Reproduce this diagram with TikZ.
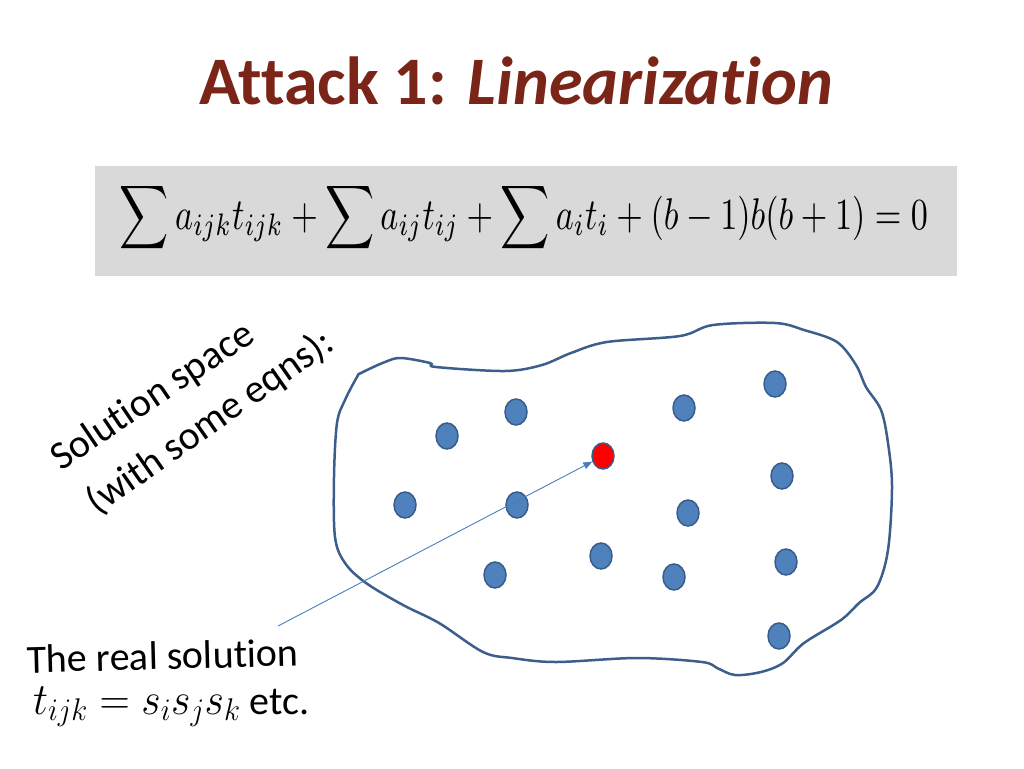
\documentclass[tikz,border=0pt]{standalone}
\usepackage{fix-cm}
\usepackage[no-math]{fontspec}
\setmainfont[Ligatures=NoCommon]{Carlito}
\usetikzlibrary{shapes.geometric,arrows.meta}
\definecolor{titlered}{HTML}{7B2418}
\definecolor{dotfill}{HTML}{4F81BD}
\definecolor{dotline}{HTML}{385D8A}
\definecolor{blobline}{HTML}{3B5E8C}
\definecolor{arrowblue}{HTML}{4A7EBB}
\definecolor{eqgray}{HTML}{D9D9D9}
\tikzset{
  dot/.style={ellipse, fill=dotfill, draw=dotline, line width=1.5pt, minimum width=22pt, minimum height=26pt, inner sep=0pt},
  realdot/.style={dot, fill=red},
  pointer/.style={draw=arrowblue, line width=0.9pt, -{Triangle[length=9pt,width=7pt]}},
  bodytext/.style={font=\fontsize{40}{48}\selectfont, inner sep=0pt}
}
\begin{document}
\begin{tikzpicture}[x=1pt,y=-1pt]
\useasboundingbox (0,0) rectangle (1024,768);
% title
\node[anchor=base, inner sep=0pt, text=titlered, font=\fontsize{68}{80}\selectfont\bfseries] (title) at (516,104) {Attack 1: \textit{Linearization}};
% equation box
\fill[eqgray] (95,166) rectangle (957,276);
\node[anchor=base, inner sep=0pt] (eq) at (524,229) {\resizebox{808pt}{!}{\scalebox{1}[1.3]{$\displaystyle\sum a_{ijk}t_{ijk}+\sum a_{ij}t_{ij}+\sum a_i t_i+(b-1)b(b+1)=0$}}};
% rotated label
\node[bodytext, anchor=base west, rotate=34] (l1) at (61,472) {Solution space};
\node[bodytext, anchor=base west, rotate=35] (l2) at (97,516) {(with some eqns):};
% blob
\draw[blobline, line width=2.5pt] plot[smooth cycle, tension=0.55] coordinates {
(361,373) (385,362) (401,358) (430,363) (436,367) (505,371) (542,365) (571,353) (607,342)
(680,336) (713,325) (775,323) (804,330) (837,342) (856,365) (866,387) (881,410) (888,443)
(892,487) (888,550) (877,587) (859,603) (841,620) (804,643) (783,663) (761,672) (735,675)
(717,668) (702,662) (637,658) (556,662) (512,658) (483,652) (439,623) (403,605) (366,583)
(345,563) (335,537) (334,477) (337,423) (345,400) (357,377)};
% dots
\node[dot] (d1) at (447,436) {};
\node[dot] (d2) at (516,412) {};
\node[dot] (d3) at (684,408) {};
\node[dot] (d4) at (775,384) {};
\node[dot] (d5) at (405,505) {};
\node[dot] (d6) at (517,505) {};
\node[dot] (d7) at (782,476) {};
\node[dot] (d8) at (688,513) {};
\node[dot] (d9) at (601,556) {};
\node[dot] (d10) at (495,575) {};
\node[dot] (d11) at (674,577) {};
\node[dot] (d12) at (786,562) {};
\node[dot] (d13) at (779,636) {};
\node[realdot] (red) at (603,456) {};
% arrow
\coordinate (src) at (278,626);
\draw[pointer] (src) -- (red);
% bottom label
\node[bodytext, anchor=base west, rotate=1.5] (r1) at (27,673) {The real solution};
\node[bodytext, anchor=base west] (r2) at (33,714) {\scalebox{1.05}[1.12]{$t_{ijk}=s_is_js_k$} etc.};
\end{tikzpicture}
\end{document}
